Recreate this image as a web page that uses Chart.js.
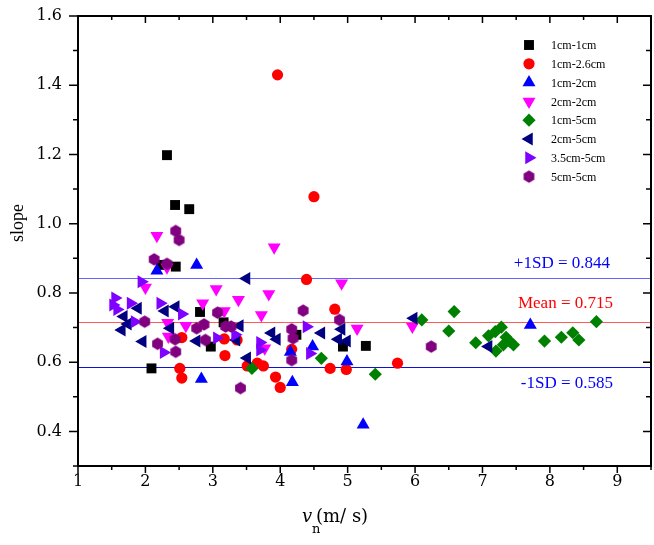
<!DOCTYPE html>
<html><head><meta charset="utf-8">
<script src="https://cdn.jsdelivr.net/npm/chart.js@4.4.1/dist/chart.umd.min.js"></script>
<style>html,body{margin:0;padding:0;background:#fff;}#wrap{width:654px;height:545px;}</style>
</head><body><div id="wrap"><canvas id="c" width="654" height="545"></canvas></div>
<script>
// ---- data ----
const seriesNames = ['1cm-1cm','1cm-2.6cm','1cm-2cm','2cm-2cm','1cm-5cm','2cm-5cm','3.5cm-5cm','5cm-5cm'];

const x_1cm_1cm = [2.32,2.44,2.65,2.23,2.45,2.81,2.09,3.16,2.97,4.24,4.93,5.27];
const y_1cm_1cm = [1.198,1.054,1.042,0.881,0.876,0.745,0.582,0.715,0.645,0.679,0.645,0.647];

const x_1cm_26cm = [3.96,4.50,4.39,4.81,5.74,4.74,4.98,4.17,2.54,2.51,2.54,3.17,3.36,3.18,3.51,3.66,3.75,3.93,4.00];
const y_1cm_26cm = [1.430,1.078,0.839,0.753,0.597,0.582,0.579,0.637,0.671,0.582,0.554,0.667,0.664,0.619,0.589,0.597,0.589,0.557,0.527];

const x_1cm_2cm = [2.76,2.17,2.83,4.15,4.18,4.48,4.99,5.23,7.71];
const y_1cm_2cm = [0.881,0.864,0.551,0.629,0.542,0.645,0.602,0.419,0.707];

const x_2cm_2cm = [2.17,3.91,2.00,3.05,3.38,2.85,3.17,3.83,3.72,2.33,2.60,2.34,3.77,4.91,5.14,5.96,2.32];
const y_2cm_2cm = [0.965,0.932,0.816,0.811,0.780,0.770,0.748,0.797,0.736,0.714,0.705,0.674,0.640,0.828,0.697,0.703,0.874];

const x_1cm_5cm = [3.58,4.61,5.41,6.10,6.58,6.50,6.90,7.09,7.19,7.28,7.20,7.35,7.41,7.46,7.31,7.92,8.17,8.34,8.43,8.69];
const y_1cm_5cm = [0.582,0.611,0.565,0.722,0.746,0.690,0.656,0.676,0.688,0.701,0.632,0.672,0.659,0.650,0.650,0.661,0.672,0.685,0.664,0.717];

const x_2cm_5cm = [3.50,5.98,7.09,1.89,1.68,1.65,1.96,2.29,2.45,2.37,2.76,3.40,3.35,3.51,3.87,3.95,4.61,4.91,4.86,4.99,1.74];
const y_2cm_5cm = [0.842,0.727,0.645,0.756,0.732,0.693,0.660,0.748,0.760,0.698,0.661,0.705,0.664,0.612,0.684,0.666,0.684,0.695,0.666,0.661,0.710];

const x_35cm_5cm = [1.94,1.55,1.52,1.78,1.58,1.84,2.22,2.54,2.27,3.06,3.33,3.70,3.70,4.39,4.44];
const y_35cm_5cm = [0.832,0.785,0.765,0.770,0.752,0.717,0.770,0.739,0.628,0.670,0.679,0.657,0.635,0.702,0.625];

const x_5cm_5cm = [2.45,2.50,2.13,2.32,1.99,2.18,2.44,2.45,3.07,2.87,2.76,2.89,3.19,3.27,3.41,4.17,4.19,4.17,4.34,4.88,6.24];
const y_5cm_5cm = [0.979,0.953,0.897,0.884,0.717,0.653,0.666,0.630,0.743,0.709,0.698,0.664,0.703,0.703,0.525,0.695,0.669,0.606,0.749,0.722,0.645];

const refValues = [0.844, 0.715, 0.585];
const refLabels = ['+1SD = 0.844', 'Mean = 0.715', '-1SD = 0.585'];

const xTicks = [1,2,3,4,5,6,7,8,9];
const yTicks = [0.4,0.6,0.8,1.0,1.2,1.4,1.6];

// ---- styling ----
function makeHex(r, color){
  const s = Math.ceil(2*r+2);
  const c = document.createElement('canvas'); c.width = s; c.height = s;
  const g = c.getContext('2d'); g.fillStyle = color; g.beginPath();
  for (let k=0;k<6;k++){ const a = Math.PI/180*(60*k-90);
    const px = s/2 + r*Math.cos(a), py = s/2 + r*Math.sin(a);
    if (k) g.lineTo(px,py); else g.moveTo(px,py); }
  g.closePath(); g.fill(); return c;
}
const hexImg = makeHex(6.2, '#800080');

const styles = [
  {color:'#000000', pointStyle:'rect', rotation:0, radius:7},
  {color:'#ff0000', pointStyle:'circle', rotation:0, radius:5.6},
  {color:'#0000ff', pointStyle:'triangle', rotation:0, radius:7.5},
  {color:'#ff00ff', pointStyle:'triangle', rotation:180, radius:7.5},
  {color:'#008000', pointStyle:'rectRot', rotation:0, radius:6.6},
  {color:'#000080', pointStyle:'triangle', rotation:270, radius:7.5},
  {color:'#8000ff', pointStyle:'triangle', rotation:90, radius:7.5},
  {color:'#800080', pointStyle:hexImg, rotation:0, radius:6.2}
];
const xs = [x_1cm_1cm,x_1cm_26cm,x_1cm_2cm,x_2cm_2cm,x_1cm_5cm,x_2cm_5cm,x_35cm_5cm,x_5cm_5cm];
const ys = [y_1cm_1cm,y_1cm_26cm,y_1cm_2cm,y_2cm_2cm,y_1cm_5cm,y_2cm_5cm,y_35cm_5cm,y_5cm_5cm];

const datasets = seriesNames.map((name,i)=>({
  label: name,
  data: xs[i].map((x,j)=>({x:x, y:ys[i][j]})),
  pointStyle: styles[i].pointStyle,
  rotation: styles[i].rotation,
  pointRadius: styles[i].radius,
  pointHoverRadius: styles[i].radius,
  backgroundColor: styles[i].color,
  borderColor: styles[i].color,
  pointBorderWidth: 0,
  showLine: false,
  order: 10 - i
}));

function drawMarker(ctx, st, x, y){
  ctx.save();
  ctx.fillStyle = st.color; ctx.strokeStyle = st.color;
  Chart.helpers.drawPoint(ctx, {pointStyle: st.pointStyle, rotation: st.rotation, radius: st.radius, borderWidth: 0}, x, y);
  ctx.restore();
}

const refColors = ['#6464ff', '#ff5a5a', '#1010d8'];
const refTextColors = ['#0000ff', '#ff0000', '#0000ff'];
const refTextPos = [[610,268],[613,308],[613,388]];

const decor = {
  id:'decor',
  beforeDatasetsDraw(chart){
    const {ctx, chartArea:a, scales:{y}} = chart;
    ctx.save();
    refValues.forEach((v,i)=>{
      const py = Math.round(y.getPixelForValue(v)) + 0.5;
      ctx.strokeStyle = refColors[i]; ctx.lineWidth = 1.2;
      ctx.beginPath(); ctx.moveTo(a.left, py); ctx.lineTo(a.right, py); ctx.stroke();
    });
    ctx.restore();
  },
  afterDatasetsDraw(chart){
    const {ctx, chartArea:a, scales:{x,y}} = chart;
    ctx.save();
    // frame
    ctx.strokeStyle = '#000'; ctx.lineWidth = 2;
    ctx.strokeRect(a.left, a.top, a.right - a.left, a.bottom - a.top);
    // ticks
    ctx.lineWidth = 1.5;
    ctx.beginPath();
    for (let v = 1; v <= 9.5001; v += 0.5){
      const px = x.getPixelForValue(v);
      const major = Math.abs(v - Math.round(v)) < 1e-6;
      const L = major ? 7 : 4;
      ctx.moveTo(px, a.bottom); ctx.lineTo(px, a.bottom + L);
      ctx.moveTo(px, a.top); ctx.lineTo(px, a.top + L);
    }
    for (let k = 3; k <= 16; k++){
      const v = k/10;
      const py = y.getPixelForValue(v);
      const major = (k % 2 === 0);
      const L = major ? 9 : 5;
      ctx.moveTo(a.left, py); ctx.lineTo(a.left - L, py);
      ctx.moveTo(a.right, py); ctx.lineTo(a.right - (major ? 8 : 5), py);
    }
    ctx.stroke();
    // ref labels
    ctx.font = '17px "Liberation Serif"';
    ctx.textAlign = 'right'; ctx.textBaseline = 'alphabetic';
    refLabels.forEach((t,i)=>{ ctx.fillStyle = refTextColors[i]; ctx.fillText(t, refTextPos[i][0], refTextPos[i][1]); });
    // legend
    ctx.font = '12px "Liberation Serif"';
    ctx.textAlign = 'left'; ctx.textBaseline = 'middle'; 
    seriesNames.forEach((n,i)=>{
      const ly = 45 + i*18.8;
      drawMarker(ctx, styles[i], 529, ly);
      ctx.fillStyle = '#000';
      ctx.fillText(n, 551, ly + 1);
    });
    // axis titles
    ctx.fillStyle = '#000';
    ctx.save();
    ctx.translate(18, 223); ctx.rotate(-Math.PI/2);
    ctx.font = '18px "Liberation Serif"'; ctx.textAlign = 'center'; ctx.textBaseline = 'middle';
    ctx.fillText('slope', 0, 0);
    ctx.restore();
    ctx.textAlign = 'left'; ctx.textBaseline = 'alphabetic';
    ctx.font = 'italic 18px "DejaVu Serif"';
    ctx.fillText('v', 302, 522);
    ctx.font = '13px "DejaVu Serif"';
    ctx.fillText('n', 312, 533);
    ctx.font = '18px "DejaVu Serif"';
    ctx.fillText('(m/ s)', 316, 522);
    ctx.restore();
  }
};

function zeroPad(s){ s.paddingTop = 0; s.paddingBottom = 0; s.paddingLeft = 0; s.paddingRight = 0; }

new Chart(document.getElementById('c'), {
  type: 'scatter',
  data: {datasets},
  options: {
    responsive: false, animation: false, devicePixelRatio: 1,
    layout: {autoPadding: false, padding: {top: 16, right: 3, left: 0, bottom: 0}},
    plugins: {legend: {display: false}, tooltip: {enabled: false}},
    scales: {
      x: {
        type: 'linear', min: 1, max: 9.5,
        afterBuildTicks: s => { s.ticks = xTicks.map(v => ({value: v})); },
        afterFit: s => { s.height = 79; zeroPad(s); },
        grid: {display: false, drawTicks: false},
        border: {display: false},
        ticks: {font: {family: 'DejaVu Serif', size: 16}, color: '#000', padding: 6, maxRotation: 0, autoSkip: false}
      },
      y: {
        type: 'linear', min: 0.3, max: 1.6,
        afterBuildTicks: s => { s.ticks = yTicks.map(v => ({value: v})); },
        afterFit: s => { s.width = 78; zeroPad(s); },
        grid: {display: false, drawTicks: false},
        border: {display: false},
        ticks: {font: {family: 'DejaVu Serif', size: 16}, color: '#000', padding: 16, autoSkip: false,
                callback: v => Number(v).toFixed(1)}
      }
    }
  },
  plugins: [decor]
});
</script>
</body></html>
